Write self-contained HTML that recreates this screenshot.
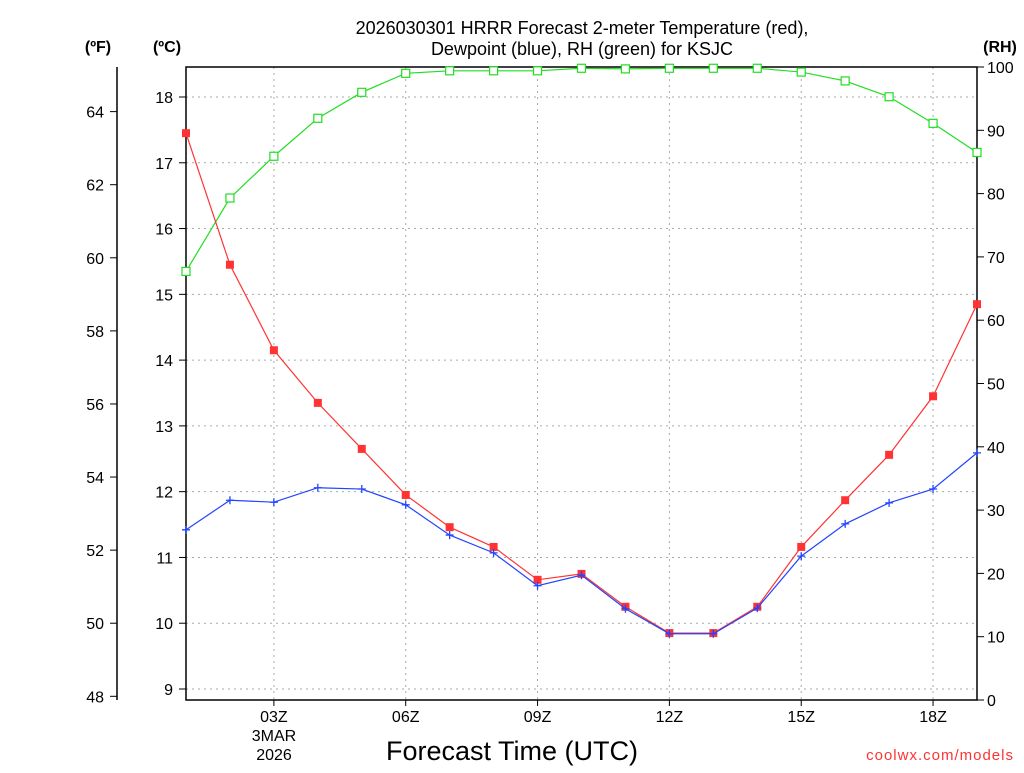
<!DOCTYPE html>
<html><head><meta charset="utf-8"><style>
body{margin:0;background:#fff;width:1024px;height:768px;overflow:hidden}
svg text{font-family:"Liberation Sans",sans-serif}
</style></head><body>
<svg id="chart" width="1024" height="768" xmlns="http://www.w3.org/2000/svg">
<g id="g"></g>
</svg>
<script>
const hours=[1,2,3,4,5,6,7,8,9,10,11,12,13,14,15,16,17,18,19];
const tempC=[17.45,15.45,14.15,13.35,12.65,11.95,11.46,11.16,10.66,10.75,10.25,9.85,9.85,10.25,11.16,11.87,12.56,13.45,14.85];
const dewC=[11.42,11.87,11.84,12.06,12.04,11.80,11.34,11.07,10.57,10.73,10.22,9.84,9.84,10.23,11.02,11.51,11.83,12.04,12.59];
const rh=[67.7,79.3,85.9,91.9,96.0,99.0,99.4,99.4,99.4,99.8,99.7,99.8,99.8,99.8,99.2,97.8,95.3,91.1,86.5];
const cTicks=[9,10,11,12,13,14,15,16,17,18];
const fTicks=[48,50,52,54,56,58,60,62,64];
const rhTicks=[0,10,20,30,40,50,60,70,80,90,100];
const xTicks=[3,6,9,12,15,18];
const xTickLabels=["03Z","06Z","09Z","12Z","15Z","18Z"];

const L=186,R=977,T=67,B=700;
const x=h=>L+(h-1)*(R-L)/18;
const yC=c=>97+(18-c)*(689-97)/9;
const yF=f=>yC((f-32)*5/9);
const yR=r=>B-r*(B-T)/100;
const g=document.getElementById('g');
const NS='http://www.w3.org/2000/svg';
function el(t,a,txt){const e=document.createElementNS(NS,t);for(const k in a)e.setAttribute(k,a[k]);if(txt!==undefined)e.textContent=txt;g.appendChild(e);return e;}

// grid
cTicks.forEach(c=>{const e=el('line',{x1:L,x2:R,y1:yC(c),y2:yC(c),stroke:'#aaa','stroke-dasharray':'2,4'});

});
xTicks.forEach(h=>{const e=el('line',{x1:x(h),x2:x(h),y1:T,y2:B,stroke:'#aaa','stroke-dasharray':'2,4'});

});
// frame
let f=el('rect',{x:L,y:T,width:R-L,height:B-T,fill:'none',stroke:'#000','stroke-width':1.5});


// F axis
let fa=el('line',{x1:117,x2:117,y1:T,y2:B,stroke:'#000','stroke-width':1.5});


fTicks.forEach(v=>{el('line',{x1:110,x2:117,y1:yF(v),y2:yF(v),stroke:'#000'});
const t=el('text',{x:104,y:yF(v)+6,'text-anchor':'end','font-size':16},v);

});
cTicks.forEach(v=>{el('line',{x1:179,x2:186,y1:yC(v),y2:yC(v),stroke:'#000'});
const t=el('text',{x:173,y:yC(v)+6,'text-anchor':'end','font-size':16},v);

});
rhTicks.forEach(v=>{el('line',{x1:977,x2:984,y1:yR(v),y2:yR(v),stroke:'#000'});
const t=el('text',{x:987,y:yR(v)+6,'font-size':16},v);

});
xTicks.forEach((h,i)=>{el('line',{x1:x(h),x2:x(h),y1:B,y2:B+6,stroke:'#000'});
const t=el('text',{x:x(h),y:722,'text-anchor':'middle','font-size':16},xTickLabels[i]);

});
let d1=el('text',{x:274,y:741,'text-anchor':'middle','font-size':16},'3MAR');


let d2=el('text',{x:274,y:760,'text-anchor':'middle','font-size':16},'2026');



function series(vals,yf,color,name,marker){
 const pts=vals.map((v,i)=>x(hours[i])+','+yf(v)).join(' ');
 const p=el('polyline',{points:pts,fill:'none',stroke:color,'stroke-width':1.2});
 
 
 vals.forEach((v,i)=>{const cx=x(hours[i]),cy=yf(v);let m;
  if(marker==='sq')m=el('rect',{x:cx-4,y:cy-4,width:8,height:8,fill:color});
  else if(marker==='open')m=el('rect',{x:cx-4,y:cy-4,width:8,height:8,fill:'#fff',stroke:color,'stroke-width':1.2});
  else m=el('path',{d:`M${cx-4},${cy}H${cx+4}M${cx},${cy-4}V${cy+4}`,stroke:color,'stroke-width':1.3});
  
  });
}
series(rh,yR,'#22dd22','rh','open');
series(tempC,yC,'#ff3333','temperature','sq');
series(dewC,yC,'#2244ff','dewpoint','plus');

const texts=[
 [582,34,'2026030301 HRRR Forecast 2-meter Temperature (red),',18,'middle','#000','title-line1','normal'],
 [582,55,'Dewpoint (blue), RH (green) for KSJC',18,'middle','#000','title-line2','normal'],
 [98,52,'(ºF)',16,'middle','#000','fahrenheit-unit','bold'],
 [167,52,'(ºC)',16,'middle','#000','celsius-unit','bold'],
 [1000,52,'(RH)',16,'middle','#000','rh-unit','bold'],
 [512,760,'Forecast Time (UTC)',27,'middle','#000','x-axis-title','normal'],
 [1014,760,'coolwx.com/models',15,'end','#ff3333','watermark','normal']];
texts.forEach(a=>{const t=el('text',{x:a[0],y:a[1],'font-size':a[3],'text-anchor':a[4],fill:a[5],'font-weight':a[7],'letter-spacing':a[6]==='watermark'?1:0},a[2]);

});
</script>
</body></html>
